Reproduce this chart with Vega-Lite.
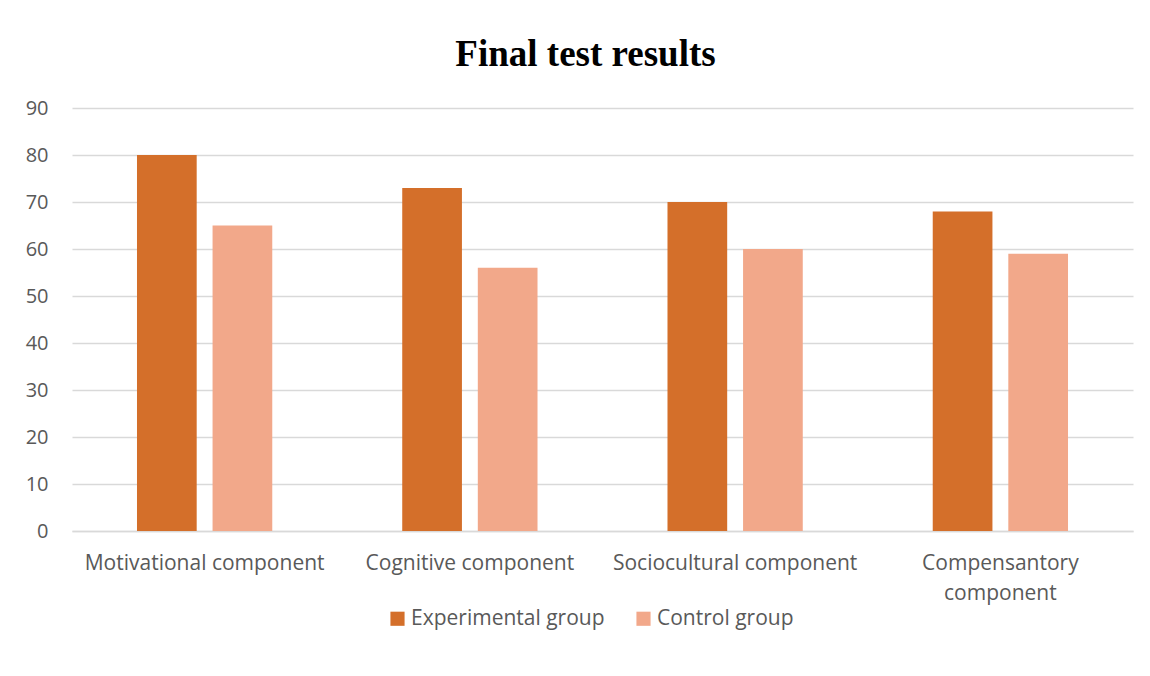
{
  "$schema": "https://vega.github.io/schema/vega-lite/v6.json",
  "autosize": {"type": "none"},
  "width": 1061,
  "height": 423,
  "padding": {"left": 72, "top": 108, "right": 17, "bottom": 145},
  "background": "white",
  "title": {
    "text": "Final test results",
    "font": "Liberation Serif",
    "fontSize": 37,
    "fontWeight": "bold",
    "color": "#000000",
    "anchor": "middle",
    "dx": -17,
    "offset": 24
  },
  "data": {
    "values": [
      {"component": "Motivational component", "group": "Experimental group", "value": 80},
      {"component": "Motivational component", "group": "Control group", "value": 65},
      {"component": "Cognitive component", "group": "Experimental group", "value": 73},
      {"component": "Cognitive component", "group": "Control group", "value": 56},
      {"component": "Sociocultural component", "group": "Experimental group", "value": 70},
      {"component": "Sociocultural component", "group": "Control group", "value": 60},
      {"component": "Compensantory component", "group": "Experimental group", "value": 68},
      {"component": "Compensantory component", "group": "Control group", "value": 59}
    ]
  },
  "mark": {"type": "bar"},
  "encoding": {
    "x": {
      "field": "component",
      "type": "nominal",
      "sort": null,
      "scale": {"paddingInner": 0.49, "paddingOuter": 0.245},
      "axis": {
        "title": null,
        "labelAngle": 0,
        "labelFont": "Open Sans",
        "labelFontSize": 21,
        "labelLimit": 0,
        "labelColor": "#595959",
        "labelPadding": 21,
        "labelLineHeight": 30,
        "labelExpr": "datum.label == 'Compensantory component' ? ['Compensantory', 'component'] : datum.label",
        "ticks": false,
        "domainColor": "#d9d9d9",
        "domainWidth": 1.5
      }
    },
    "xOffset": {
      "field": "group",
      "type": "nominal",
      "sort": ["Experimental group", "Control group"],
      "scale": {"paddingInner": 0.21, "paddingOuter": 0}
    },
    "y": {
      "field": "value",
      "type": "quantitative",
      "scale": {"domain": [0, 90]},
      "axis": {
        "title": null,
        "values": [0, 10, 20, 30, 40, 50, 60, 70, 80, 90],
        "labelFont": "Open Sans",
        "labelFontSize": 20,
        "labelColor": "#595959",
        "labelPadding": 24,
        "ticks": false,
        "domain": false,
        "gridColor": "#d9d9d9",
        "gridWidth": 1.5
      }
    },
    "color": {
      "field": "group",
      "type": "nominal",
      "sort": ["Experimental group", "Control group"],
      "scale": {"domain": ["Experimental group", "Control group"], "range": ["#D46F2A", "#F2A88A"]},
      "legend": {
        "title": null,
        "orient": "none",
        "direction": "horizontal",
        "legendX": 315,
        "legendY": 500,
        "symbolType": "square",
        "symbolSize": 200,
        "symbolStrokeWidth": 0,
        "labelFont": "Open Sans",
        "labelFontSize": 21,
        "labelLimit": 0,
        "labelColor": "#595959",
        "columnPadding": 28,
        "labelOffset": 3
      }
    }
  },
  "config": {"view": {"stroke": null}}
}
